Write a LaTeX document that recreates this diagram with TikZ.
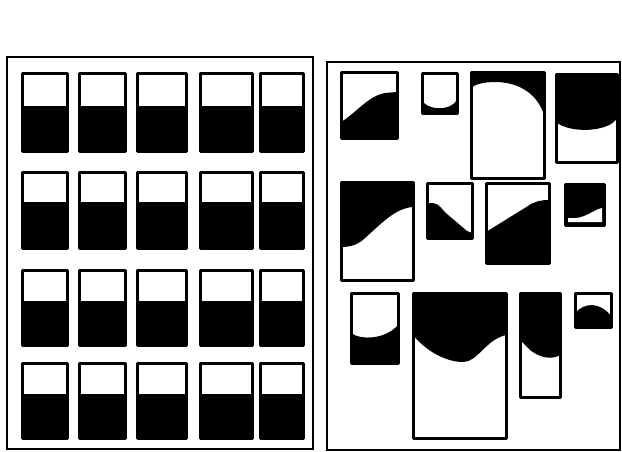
\documentclass[tikz,border=0pt]{standalone}
\usepackage{tikz}
\begin{document}
\begin{tikzpicture}[x=1pt,y=-1pt,panel/.style={draw,line width=1.6pt},cell/.style={draw,line width=3pt,line join=round},ink/.style={fill=black}]
\useasboundingbox (0,0) rectangle (622,452);
\draw[panel] (7,57) rectangle (313,449);
\draw[panel] (327,62) rectangle (620,450);
\foreach \yt/\yb/\ye in {74/106/151,172/202/248,270/301/345,363/394/438}
  \foreach \xl/\xr in {22/67,79/125,137/186,200/252,260/303} {
    \fill[ink] (\xl,\yb) rectangle (\xr,\ye);
    \draw[cell] (\xl,\yt) rectangle (\xr,\ye);
  }
\fill[ink] (341,139) -- (341,122) .. controls (355,114) and (368,96) .. (385,93) -- (397,92) -- (397,139) -- cycle;
\draw[cell] (341,73) rectangle (397,139);
\fill[ink] (422,114) -- (422,100) .. controls (426,110) and (450,112) .. (457,100) -- (457,114) -- cycle;
\draw[cell] (422,74) rectangle (457,114);
\fill[ink] (471,73) -- (544,73) -- (544,115) .. controls (538,95) and (520,82) .. (495,82) .. controls (482,82) and (474,85) .. (471,88) -- cycle;
\draw[cell] (471,73) rectangle (544,178);
\fill[ink] (556,75) -- (617,75) -- (617,118) .. controls (610,132) and (570,134) .. (556,122) -- cycle;
\draw[cell] (556,75) rectangle (617,162);
\fill[ink] (341,182) -- (413,182) -- (413,207) .. controls (395,208) and (380,225) .. (365,238) .. controls (358,245) and (350,247) .. (341,247) -- cycle;
\draw[cell] (341,182) rectangle (413,280);
\fill[ink] (427,238) -- (427,203) -- (433,203) .. controls (440,204) and (442,210) .. (447,214) -- (467,231) -- (472,233) -- (472,238) -- cycle;
\draw[cell] (427,183) rectangle (472,238);
\fill[ink] (486,263) -- (486,232) -- (528,206) .. controls (535,201) and (542,200) .. (549,200) -- (549,263) -- cycle;
\draw[cell] (486,183) rectangle (549,263);
\fill[ink] (565,184) rectangle (604,225);
\fill[white] (568,218) .. controls (585,220) and (592,210) .. (602,208) -- (602,222) -- (568,222) -- cycle;
\draw[cell] (565,184) rectangle (604,225);
\fill[ink] (351,363) -- (351,333) .. controls (360,340) and (385,340) .. (398,325) -- (398,363) -- cycle;
\draw[cell] (351,293) rectangle (398,363);
\fill[ink] (413,293) -- (506,293) -- (506,335) .. controls (485,340) and (478,362) .. (463,362) .. controls (445,362) and (425,350) .. (413,335) -- cycle;
\draw[cell] (413,293) rectangle (506,438);
\fill[ink] (520,293) -- (560,293) -- (560,355) .. controls (552,360) and (540,358) .. (530,350) .. controls (525,345) and (522,342) .. (520,340) -- cycle;
\draw[cell] (520,293) rectangle (560,397);
\fill[ink] (575,327) -- (575,313) .. controls (585,302) and (600,302) .. (611,316) -- (611,327) -- cycle;
\draw[cell] (575,293) rectangle (611,327);
\end{tikzpicture}
\end{document}
